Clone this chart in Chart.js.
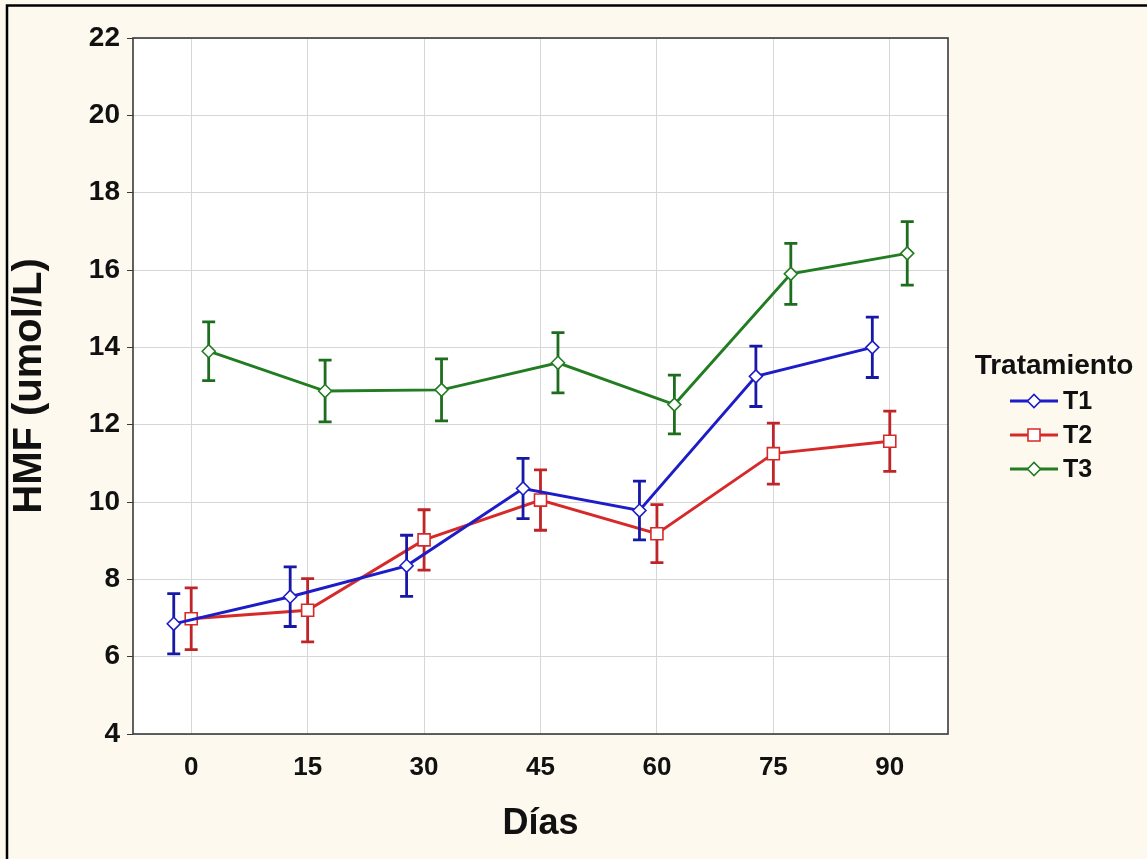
<!DOCTYPE html>
<html>
<head>
<meta charset="utf-8">
<script src="https://cdn.jsdelivr.net/npm/chart.js@4/dist/chart.umd.min.js"></script>
<style>
  html, body { margin: 0; padding: 0; background: #fdf9ee; }
  #wrap { width: 1147px; height: 859px; position: relative; }
</style>
</head>
<body>
<div id="wrap"><canvas id="c" width="1147" height="859"></canvas></div>
<script>
// Sampling days and HMF means (umol/L) with error half-widths per treatment
const days = [0, 15, 30, 45, 60, 75, 90];
const t1Mean = [6.85, 7.55, 8.35, 10.35, 9.78, 13.25, 14.0];
const t1Err  = [0.78, 0.77, 0.79, 0.78, 0.76, 0.78, 0.78];
const t2Mean = [6.98, 7.2, 9.02, 10.05, 9.18, 11.25, 11.57];
const t2Err  = [0.8, 0.82, 0.78, 0.78, 0.75, 0.79, 0.78];
const t3Mean = [13.9, 12.87, 12.9, 13.6, 12.52, 15.9, 16.43];
const t3Err  = [0.76, 0.8, 0.8, 0.78, 0.76, 0.79, 0.82];
const yTicks = [4, 6, 8, 10, 12, 14, 16, 18, 20, 22];
const seriesNames = ['T1', 'T2', 'T3'];

const FONT = "'Liberation Sans', Arial, sans-serif";
const DODGE = 2.25; // horizontal shift (days) so the groups don't overlap

const styles = [
  { line: '#1c1cc8', bar: '#1818a6', marker: 'rectRot', radius: 6.5 },
  { line: '#d62a2a', bar: '#bf2528', marker: 'rect', radius: 8.5 },
  { line: '#227c22', bar: '#1e6c1e', marker: 'rectRot', radius: 6.5 }
];
const means = [t1Mean, t2Mean, t3Mean];
const errs = [t1Err, t2Err, t3Err];

const datasets = seriesNames.map((name, i) => ({
  label: name,
  data: days.map((d, k) => ({ x: d + (i - 1) * DODGE, y: means[i][k], err: errs[i][k] })),
  borderColor: styles[i].line,
  borderWidth: 2.9,
  pointStyle: styles[i].marker,
  pointRadius: styles[i].radius,
  pointBorderWidth: 1.6,
  pointBackgroundColor: '#ffffff',
  pointBorderColor: styles[i].line,
  tension: 0,
  errColor: styles[i].bar
}));

const backdrop = {
  id: 'backdrop',
  beforeDraw(chart) {
    const { ctx, chartArea: a } = chart;
    ctx.save();
    ctx.fillStyle = '#fdf9ee';
    ctx.fillRect(0, 0, chart.width, chart.height);
    ctx.fillStyle = '#ffffff';
    ctx.fillRect(a.left, a.top, a.right - a.left, a.bottom - a.top);
    // outer frame (top and left edges)
    ctx.strokeStyle = '#000000';
    ctx.lineWidth = 2.5;
    ctx.beginPath();
    ctx.moveTo(7, chart.height);
    ctx.lineTo(7, 5.5);
    ctx.lineTo(chart.width, 5.5);
    ctx.stroke();
    ctx.restore();
  }
};

const errorBars = {
  id: 'errorBars',
  beforeDatasetDraw(chart, args) {
    const ds = chart.data.datasets[args.index];
    const xs = chart.scales.x, ys = chart.scales.y;
    const ctx = chart.ctx;
    ctx.save();
    ctx.strokeStyle = ds.errColor;
    ctx.lineWidth = 2.8;
    ds.data.forEach(p => {
      const px = xs.getPixelForValue(p.x);
      const top = ys.getPixelForValue(p.y + p.err);
      const bot = ys.getPixelForValue(p.y - p.err);
      ctx.beginPath();
      ctx.moveTo(px, top); ctx.lineTo(px, bot);
      ctx.moveTo(px - 6.5, top); ctx.lineTo(px + 6.5, top);
      ctx.moveTo(px - 6.5, bot); ctx.lineTo(px + 6.5, bot);
      ctx.stroke();
    });
    ctx.restore();
  }
};

const frameAndLegend = {
  id: 'frameAndLegend',
  afterDatasetsDraw(chart) {
    const { ctx, chartArea: a } = chart;
    ctx.save();
    ctx.strokeStyle = '#3a3a3a';
    ctx.lineWidth = 1.6;
    ctx.strokeRect(a.left, a.top, a.right - a.left, a.bottom - a.top);
    ctx.restore();
  },
  afterDraw(chart) {
    const ctx = chart.ctx;
    ctx.save();
    ctx.fillStyle = '#111111';
    ctx.textBaseline = 'middle';
    ctx.textAlign = 'center';
    ctx.font = 'bold 28px ' + FONT;
    ctx.fillText('Tratamiento', 1054, 366);
    ctx.textAlign = 'left';
    ctx.font = 'bold 25px ' + FONT;
    const ys = [401, 435, 469];
    chart.data.datasets.forEach((ds, i) => {
      const y = ys[i];
      ctx.strokeStyle = ds.borderColor;
      ctx.lineWidth = 2.9;
      ctx.beginPath();
      ctx.moveTo(1010, y); ctx.lineTo(1058, y);
      ctx.stroke();
      ctx.fillStyle = '#ffffff';
      ctx.strokeStyle = ds.pointBorderColor;
      ctx.lineWidth = ds.pointBorderWidth;
      Chart.helpers.drawPoint(ctx, { pointStyle: ds.pointStyle, radius: ds.pointRadius, rotation: 0, borderWidth: ds.pointBorderWidth }, 1034, y);
      ctx.fillStyle = '#111111';
      ctx.fillText(ds.label, 1063, y + 1);
    });
    ctx.restore();
  }
};

new Chart(document.getElementById('c'), {
  type: 'line',
  data: { datasets },
  plugins: [backdrop, errorBars, frameAndLegend],
  options: {
    responsive: false,
    animation: false,
    layout: { padding: { top: 38, right: 199, left: 0, bottom: 0 } },
    plugins: { legend: { display: false }, tooltip: { enabled: false } },
    scales: {
      x: {
        type: 'linear',
        min: -7.5,
        max: 97.5,
        afterBuildTicks: s => { s.ticks = days.map(v => ({ value: v })); },
        afterFit: s => { s.height = 125; },
        grid: { color: '#d6d6d6', lineWidth: 1, drawTicks: false },
        border: { display: false },
        ticks: { color: '#111111', font: { family: FONT, size: 26, weight: 'bold' }, padding: 18, maxRotation: 0 },
        title: { display: true, text: 'Días', color: '#111111', font: { family: FONT, size: 36, weight: 'bold' }, padding: { top: 0, bottom: 13 } }
      },
      y: {
        min: 4,
        max: 22,
        afterBuildTicks: s => { s.ticks = yTicks.map(v => ({ value: v })); },
        afterFit: s => { s.width = 133; },
        grid: { color: '#d6d6d6', lineWidth: 1, tickLength: 6, tickColor: '#3a3a3a' },
        border: { display: false },
        ticks: { color: '#111111', font: { family: FONT, size: 28, weight: 'bold' }, padding: 7 },
        title: { display: true, text: 'HMF (umol/L)', color: '#111111', font: { family: FONT, size: 40, weight: 'bold' }, padding: { top: 6, bottom: 0 } }
      }
    }
  }
});
</script>
</body>
</html>
